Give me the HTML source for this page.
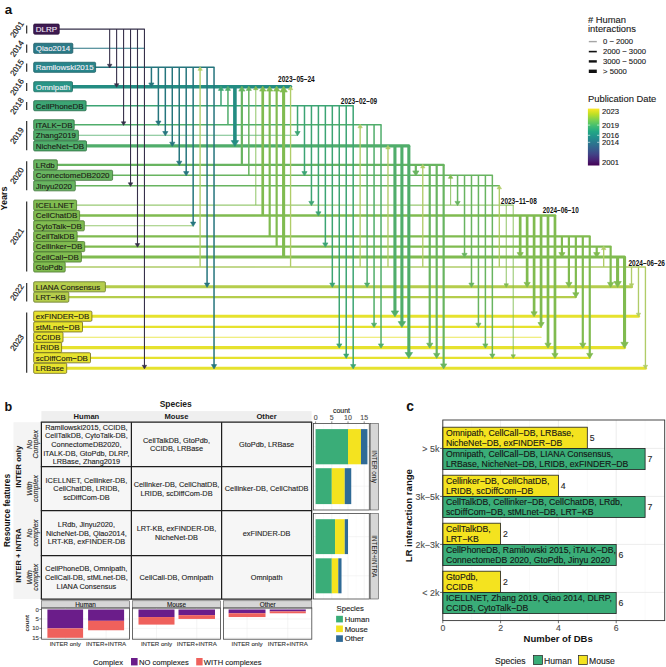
<!DOCTYPE html>
<html><head><meta charset="utf-8"><style>
html,body{margin:0;padding:0;background:#fff;}
svg{display:block;font-family:"Liberation Sans", sans-serif;}
</style></head><body>
<svg width="666" height="667" viewBox="0 0 666 667">
<rect width="666" height="667" fill="#fff"/>
<line x1="40" y1="29.1" x2="144.45" y2="29.1" stroke="#36304a" stroke-width="1.1" stroke-linecap="round"/>
<line x1="40" y1="48.3" x2="144.60" y2="48.3" stroke="#2a7482" stroke-width="1.1" stroke-linecap="round"/>
<line x1="40" y1="67.3" x2="214.03" y2="67.3" stroke="#25757d" stroke-width="1.5" stroke-linecap="round"/>
<line x1="40" y1="86.7" x2="290.57" y2="86.7" stroke="#238c82" stroke-width="3.6" stroke-linecap="round"/>
<line x1="40" y1="105.7" x2="353.19" y2="105.7" stroke="#3ca474" stroke-width="1.5" stroke-linecap="round"/>
<line x1="40" y1="124.8" x2="381.02" y2="124.8" stroke="#50ad6b" stroke-width="1.5" stroke-linecap="round"/>
<line x1="40" y1="135.2" x2="297.53" y2="135.2" stroke="#50ad6b" stroke-width="1.1" stroke-linecap="round" stroke-opacity="0.8"/>
<line x1="40" y1="145.9" x2="408.85" y2="145.9" stroke="#50ad6b" stroke-width="3.1" stroke-linecap="round"/>
<line x1="40" y1="164.9" x2="443.64" y2="164.9" stroke="#68b460" stroke-width="2.2" stroke-linecap="round"/>
<line x1="40" y1="175.3" x2="492.35" y2="175.3" stroke="#68b460" stroke-width="1.5" stroke-linecap="round"/>
<line x1="40" y1="185.8" x2="499.31" y2="185.8" stroke="#68b460" stroke-width="1.5" stroke-linecap="round"/>
<line x1="40" y1="205.1" x2="513.22" y2="205.1" stroke="#80bb50" stroke-width="1.1" stroke-linecap="round" stroke-opacity="0.8"/>
<line x1="40" y1="215.5" x2="554.97" y2="215.5" stroke="#80bb50" stroke-width="2.7" stroke-linecap="round"/>
<line x1="40" y1="225.8" x2="193.16" y2="225.8" stroke="#80bb50" stroke-width="1.1" stroke-linecap="round" stroke-opacity="0.8"/>
<line x1="40" y1="236.3" x2="589.76" y2="236.3" stroke="#80bb50" stroke-width="2.2" stroke-linecap="round"/>
<line x1="40" y1="246.6" x2="610.64" y2="246.6" stroke="#80bb50" stroke-width="2.2" stroke-linecap="round"/>
<line x1="40" y1="257.0" x2="624.55" y2="257.0" stroke="#80bb50" stroke-width="3.1" stroke-linecap="round"/>
<line x1="40" y1="267.0" x2="645.43" y2="267.0" stroke="#b0cc68" stroke-width="1.35" stroke-linecap="round"/>
<line x1="40" y1="286.8" x2="631.51" y2="286.8" stroke="#b5cd4c" stroke-width="3.1" stroke-linecap="round"/>
<line x1="40" y1="297.1" x2="575.85" y2="297.1" stroke="#b5cd4c" stroke-width="2.2" stroke-linecap="round"/>
<line x1="40" y1="316.2" x2="638.47" y2="316.2" stroke="#e6e22e" stroke-width="3.1" stroke-linecap="round"/>
<line x1="40" y1="326.9" x2="541.06" y2="326.9" stroke="#e6e22e" stroke-width="2.2" stroke-linecap="round"/>
<line x1="40" y1="337.2" x2="541.06" y2="337.2" stroke="#e6e22e" stroke-width="1.1" stroke-linecap="round" stroke-opacity="0.8"/>
<line x1="40" y1="347.6" x2="624.55" y2="347.6" stroke="#e6e22e" stroke-width="3.1" stroke-linecap="round"/>
<line x1="40" y1="357.8" x2="589.76" y2="357.8" stroke="#e6e22e" stroke-width="2.2" stroke-linecap="round"/>
<line x1="40" y1="368.3" x2="645.43" y2="368.3" stroke="#e6e22e" stroke-width="3.1" stroke-linecap="round"/>
<line x1="109.66" y1="29.1" x2="109.66" y2="64.80" stroke="#36304a" stroke-width="1.1"/>
<path d="M107.46 64.30 L111.86 64.30 L109.66 67.90 Z" fill="#36304a" stroke="#36304a" stroke-width="0.6" stroke-linejoin="round"/>
<line x1="116.62" y1="29.1" x2="116.62" y2="84.20" stroke="#36304a" stroke-width="1.1"/>
<path d="M114.42 83.70 L118.82 83.70 L116.62 87.30 Z" fill="#36304a" stroke="#36304a" stroke-width="0.6" stroke-linejoin="round"/>
<line x1="123.58" y1="29.1" x2="123.58" y2="122.30" stroke="#36304a" stroke-width="1.1"/>
<path d="M121.38 121.80 L125.78 121.80 L123.58 125.40 Z" fill="#36304a" stroke="#36304a" stroke-width="0.6" stroke-linejoin="round"/>
<line x1="130.53" y1="29.1" x2="130.53" y2="183.30" stroke="#36304a" stroke-width="1.1"/>
<path d="M128.33 182.80 L132.73 182.80 L130.53 186.40 Z" fill="#36304a" stroke="#36304a" stroke-width="0.6" stroke-linejoin="round"/>
<line x1="137.49" y1="29.1" x2="137.49" y2="244.10" stroke="#36304a" stroke-width="1.1"/>
<path d="M135.29 243.60 L139.69 243.60 L137.49 247.20 Z" fill="#36304a" stroke="#36304a" stroke-width="0.6" stroke-linejoin="round"/>
<line x1="144.45" y1="29.1" x2="144.45" y2="365.80" stroke="#36304a" stroke-width="1.1"/>
<path d="M142.25 365.30 L146.65 365.30 L144.45 368.90 Z" fill="#36304a" stroke="#36304a" stroke-width="0.6" stroke-linejoin="round"/>
<line x1="151.41" y1="67.3" x2="151.41" y2="83.50" stroke="#25757d" stroke-width="1.5"/>
<path d="M148.81 83.00 L154.01 83.00 L151.41 87.30 Z" fill="#25757d" stroke="#25757d" stroke-width="0.6" stroke-linejoin="round"/>
<line x1="158.37" y1="67.3" x2="158.37" y2="121.60" stroke="#25757d" stroke-width="1.5"/>
<path d="M155.77 121.10 L160.97 121.10 L158.37 125.40 Z" fill="#25757d" stroke="#25757d" stroke-width="0.6" stroke-linejoin="round"/>
<line x1="165.32" y1="67.3" x2="165.32" y2="132.00" stroke="#25757d" stroke-width="1.5"/>
<path d="M162.72 131.50 L167.92 131.50 L165.32 135.80 Z" fill="#25757d" stroke="#25757d" stroke-width="0.6" stroke-linejoin="round"/>
<line x1="172.28" y1="67.3" x2="172.28" y2="142.70" stroke="#25757d" stroke-width="1.5"/>
<path d="M169.68 142.20 L174.88 142.20 L172.28 146.50 Z" fill="#25757d" stroke="#25757d" stroke-width="0.6" stroke-linejoin="round"/>
<line x1="179.24" y1="67.3" x2="179.24" y2="161.70" stroke="#25757d" stroke-width="1.5"/>
<path d="M176.64 161.20 L181.84 161.20 L179.24 165.50 Z" fill="#25757d" stroke="#25757d" stroke-width="0.6" stroke-linejoin="round"/>
<line x1="186.20" y1="67.3" x2="186.20" y2="172.10" stroke="#25757d" stroke-width="1.5"/>
<path d="M183.60 171.60 L188.80 171.60 L186.20 175.90 Z" fill="#25757d" stroke="#25757d" stroke-width="0.6" stroke-linejoin="round"/>
<line x1="193.16" y1="67.3" x2="193.16" y2="222.60" stroke="#25757d" stroke-width="1.5"/>
<path d="M190.56 222.10 L195.76 222.10 L193.16 226.40 Z" fill="#25757d" stroke="#25757d" stroke-width="0.6" stroke-linejoin="round"/>
<line x1="200.11" y1="267.0" x2="200.11" y2="69.80" stroke="#b0cc68" stroke-width="1.35"/>
<path d="M197.91 70.30 L202.31 70.30 L200.11 66.70 Z" fill="#b0cc68" stroke="#b0cc68" stroke-width="0.6" stroke-linejoin="round"/>
<line x1="207.07" y1="67.3" x2="207.07" y2="283.60" stroke="#25757d" stroke-width="1.5"/>
<path d="M204.47 283.10 L209.67 283.10 L207.07 287.40 Z" fill="#25757d" stroke="#25757d" stroke-width="0.6" stroke-linejoin="round"/>
<line x1="214.03" y1="67.3" x2="214.03" y2="365.10" stroke="#25757d" stroke-width="1.5"/>
<path d="M211.43 364.60 L216.63 364.60 L214.03 368.90 Z" fill="#25757d" stroke="#25757d" stroke-width="0.6" stroke-linejoin="round"/>
<line x1="220.99" y1="105.7" x2="220.99" y2="89.90" stroke="#3ca474" stroke-width="1.5"/>
<path d="M218.39 90.40 L223.59 90.40 L220.99 86.10 Z" fill="#3ca474" stroke="#3ca474" stroke-width="0.6" stroke-linejoin="round"/>
<line x1="227.95" y1="124.8" x2="227.95" y2="89.90" stroke="#50ad6b" stroke-width="1.5"/>
<path d="M225.35 90.40 L230.55 90.40 L227.95 86.10 Z" fill="#50ad6b" stroke="#50ad6b" stroke-width="0.6" stroke-linejoin="round"/>
<line x1="234.90" y1="86.7" x2="234.90" y2="141.10" stroke="#238c82" stroke-width="3.6"/>
<path d="M231.20 140.60 L238.60 140.60 L234.90 146.50 Z" fill="#238c82" stroke="#238c82" stroke-width="0.6" stroke-linejoin="round"/>
<line x1="241.86" y1="164.9" x2="241.86" y2="90.60" stroke="#68b460" stroke-width="2.2"/>
<path d="M238.76 91.10 L244.96 91.10 L241.86 86.10 Z" fill="#68b460" stroke="#68b460" stroke-width="0.6" stroke-linejoin="round"/>
<line x1="248.82" y1="175.3" x2="248.82" y2="89.90" stroke="#68b460" stroke-width="1.5"/>
<path d="M246.22 90.40 L251.42 90.40 L248.82 86.10 Z" fill="#68b460" stroke="#68b460" stroke-width="0.6" stroke-linejoin="round"/>
<line x1="255.78" y1="205.1" x2="255.78" y2="89.20" stroke="#80bb50" stroke-width="1.1" stroke-opacity="0.8"/>
<path d="M253.58 89.70 L257.98 89.70 L255.78 86.10 Z" fill="#80bb50" stroke="#80bb50" stroke-width="0.6" stroke-linejoin="round"/>
<line x1="262.74" y1="215.5" x2="262.74" y2="90.60" stroke="#80bb50" stroke-width="2.7"/>
<path d="M259.64 91.10 L265.84 91.10 L262.74 86.10 Z" fill="#80bb50" stroke="#80bb50" stroke-width="0.6" stroke-linejoin="round"/>
<line x1="269.69" y1="236.3" x2="269.69" y2="90.60" stroke="#80bb50" stroke-width="2.2"/>
<path d="M266.59 91.10 L272.79 91.10 L269.69 86.10 Z" fill="#80bb50" stroke="#80bb50" stroke-width="0.6" stroke-linejoin="round"/>
<line x1="276.65" y1="246.6" x2="276.65" y2="90.60" stroke="#80bb50" stroke-width="2.2"/>
<path d="M273.55 91.10 L279.75 91.10 L276.65 86.10 Z" fill="#80bb50" stroke="#80bb50" stroke-width="0.6" stroke-linejoin="round"/>
<line x1="283.61" y1="257.0" x2="283.61" y2="91.50" stroke="#80bb50" stroke-width="3.1"/>
<path d="M279.91 92.00 L287.31 92.00 L283.61 86.10 Z" fill="#80bb50" stroke="#80bb50" stroke-width="0.6" stroke-linejoin="round"/>
<line x1="290.57" y1="267.0" x2="290.57" y2="89.20" stroke="#b0cc68" stroke-width="1.35"/>
<path d="M288.37 89.70 L292.77 89.70 L290.57 86.10 Z" fill="#b0cc68" stroke="#b0cc68" stroke-width="0.6" stroke-linejoin="round"/>
<line x1="297.53" y1="105.7" x2="297.53" y2="132.00" stroke="#3ca474" stroke-width="1.5"/>
<path d="M294.93 131.50 L300.13 131.50 L297.53 135.80 Z" fill="#3ca474" stroke="#3ca474" stroke-width="0.6" stroke-linejoin="round"/>
<line x1="304.48" y1="105.7" x2="304.48" y2="172.10" stroke="#3ca474" stroke-width="1.5"/>
<path d="M301.88 171.60 L307.08 171.60 L304.48 175.90 Z" fill="#3ca474" stroke="#3ca474" stroke-width="0.6" stroke-linejoin="round"/>
<line x1="311.44" y1="105.7" x2="311.44" y2="201.90" stroke="#3ca474" stroke-width="1.5"/>
<path d="M308.84 201.40 L314.04 201.40 L311.44 205.70 Z" fill="#3ca474" stroke="#3ca474" stroke-width="0.6" stroke-linejoin="round"/>
<line x1="318.40" y1="105.7" x2="318.40" y2="212.30" stroke="#3ca474" stroke-width="1.5"/>
<path d="M315.80 211.80 L321.00 211.80 L318.40 216.10 Z" fill="#3ca474" stroke="#3ca474" stroke-width="0.6" stroke-linejoin="round"/>
<line x1="325.36" y1="105.7" x2="325.36" y2="243.40" stroke="#3ca474" stroke-width="1.5"/>
<path d="M322.76 242.90 L327.96 242.90 L325.36 247.20 Z" fill="#3ca474" stroke="#3ca474" stroke-width="0.6" stroke-linejoin="round"/>
<line x1="332.32" y1="105.7" x2="332.32" y2="283.60" stroke="#3ca474" stroke-width="1.5"/>
<path d="M329.72 283.10 L334.92 283.10 L332.32 287.40 Z" fill="#3ca474" stroke="#3ca474" stroke-width="0.6" stroke-linejoin="round"/>
<line x1="339.27" y1="105.7" x2="339.27" y2="344.40" stroke="#3ca474" stroke-width="1.5"/>
<path d="M336.67 343.90 L341.87 343.90 L339.27 348.20 Z" fill="#3ca474" stroke="#3ca474" stroke-width="0.6" stroke-linejoin="round"/>
<line x1="346.23" y1="105.7" x2="346.23" y2="354.60" stroke="#3ca474" stroke-width="1.5"/>
<path d="M343.63 354.10 L348.83 354.10 L346.23 358.40 Z" fill="#3ca474" stroke="#3ca474" stroke-width="0.6" stroke-linejoin="round"/>
<line x1="353.19" y1="105.7" x2="353.19" y2="365.10" stroke="#3ca474" stroke-width="1.5"/>
<path d="M350.59 364.60 L355.79 364.60 L353.19 368.90 Z" fill="#3ca474" stroke="#3ca474" stroke-width="0.6" stroke-linejoin="round"/>
<line x1="360.15" y1="267.0" x2="360.15" y2="127.30" stroke="#b0cc68" stroke-width="1.35"/>
<path d="M357.95 127.80 L362.35 127.80 L360.15 124.20 Z" fill="#b0cc68" stroke="#b0cc68" stroke-width="0.6" stroke-linejoin="round"/>
<line x1="367.11" y1="124.8" x2="367.11" y2="283.60" stroke="#50ad6b" stroke-width="1.5"/>
<path d="M364.51 283.10 L369.71 283.10 L367.11 287.40 Z" fill="#50ad6b" stroke="#50ad6b" stroke-width="0.6" stroke-linejoin="round"/>
<line x1="374.06" y1="124.8" x2="374.06" y2="323.70" stroke="#50ad6b" stroke-width="1.5"/>
<path d="M371.46 323.20 L376.66 323.20 L374.06 327.50 Z" fill="#50ad6b" stroke="#50ad6b" stroke-width="0.6" stroke-linejoin="round"/>
<line x1="381.02" y1="124.8" x2="381.02" y2="344.40" stroke="#50ad6b" stroke-width="1.5"/>
<path d="M378.42 343.90 L383.62 343.90 L381.02 348.20 Z" fill="#50ad6b" stroke="#50ad6b" stroke-width="0.6" stroke-linejoin="round"/>
<line x1="387.98" y1="267.0" x2="387.98" y2="148.40" stroke="#b0cc68" stroke-width="1.35"/>
<path d="M385.78 148.90 L390.18 148.90 L387.98 145.30 Z" fill="#b0cc68" stroke="#b0cc68" stroke-width="0.6" stroke-linejoin="round"/>
<line x1="394.94" y1="145.9" x2="394.94" y2="311.40" stroke="#50ad6b" stroke-width="3.1"/>
<path d="M391.24 310.90 L398.64 310.90 L394.94 316.80 Z" fill="#50ad6b" stroke="#50ad6b" stroke-width="0.6" stroke-linejoin="round"/>
<line x1="401.90" y1="145.9" x2="401.90" y2="322.10" stroke="#50ad6b" stroke-width="3.1"/>
<path d="M398.20 321.60 L405.60 321.60 L401.90 327.50 Z" fill="#50ad6b" stroke="#50ad6b" stroke-width="0.6" stroke-linejoin="round"/>
<line x1="408.85" y1="145.9" x2="408.85" y2="353.00" stroke="#50ad6b" stroke-width="3.1"/>
<path d="M405.15 352.50 L412.55 352.50 L408.85 358.40 Z" fill="#50ad6b" stroke="#50ad6b" stroke-width="0.6" stroke-linejoin="round"/>
<line x1="415.81" y1="164.9" x2="415.81" y2="171.40" stroke="#68b460" stroke-width="2.2"/>
<path d="M412.71 170.90 L418.91 170.90 L415.81 175.90 Z" fill="#68b460" stroke="#68b460" stroke-width="0.6" stroke-linejoin="round"/>
<line x1="422.77" y1="267.0" x2="422.77" y2="167.40" stroke="#b0cc68" stroke-width="1.35"/>
<path d="M420.57 167.90 L424.97 167.90 L422.77 164.30 Z" fill="#b0cc68" stroke="#b0cc68" stroke-width="0.6" stroke-linejoin="round"/>
<line x1="429.73" y1="164.9" x2="429.73" y2="343.70" stroke="#68b460" stroke-width="2.2"/>
<path d="M426.63 343.20 L432.83 343.20 L429.73 348.20 Z" fill="#68b460" stroke="#68b460" stroke-width="0.6" stroke-linejoin="round"/>
<line x1="436.69" y1="164.9" x2="436.69" y2="353.90" stroke="#68b460" stroke-width="2.2"/>
<path d="M433.59 353.40 L439.79 353.40 L436.69 358.40 Z" fill="#68b460" stroke="#68b460" stroke-width="0.6" stroke-linejoin="round"/>
<line x1="443.64" y1="164.9" x2="443.64" y2="364.40" stroke="#68b460" stroke-width="2.2"/>
<path d="M440.54 363.90 L446.74 363.90 L443.64 368.90 Z" fill="#68b460" stroke="#68b460" stroke-width="0.6" stroke-linejoin="round"/>
<line x1="450.60" y1="205.1" x2="450.60" y2="177.80" stroke="#80bb50" stroke-width="1.1" stroke-opacity="0.8"/>
<path d="M448.40 178.30 L452.80 178.30 L450.60 174.70 Z" fill="#80bb50" stroke="#80bb50" stroke-width="0.6" stroke-linejoin="round"/>
<line x1="457.56" y1="175.3" x2="457.56" y2="201.90" stroke="#68b460" stroke-width="1.5"/>
<path d="M454.96 201.40 L460.16 201.40 L457.56 205.70 Z" fill="#68b460" stroke="#68b460" stroke-width="0.6" stroke-linejoin="round"/>
<line x1="464.52" y1="175.3" x2="464.52" y2="253.80" stroke="#68b460" stroke-width="1.5"/>
<path d="M461.92 253.30 L467.12 253.30 L464.52 257.60 Z" fill="#68b460" stroke="#68b460" stroke-width="0.6" stroke-linejoin="round"/>
<line x1="471.48" y1="175.3" x2="471.48" y2="283.60" stroke="#68b460" stroke-width="1.5"/>
<path d="M468.88 283.10 L474.08 283.10 L471.48 287.40 Z" fill="#68b460" stroke="#68b460" stroke-width="0.6" stroke-linejoin="round"/>
<line x1="478.43" y1="175.3" x2="478.43" y2="323.70" stroke="#68b460" stroke-width="1.5"/>
<path d="M475.83 323.20 L481.03 323.20 L478.43 327.50 Z" fill="#68b460" stroke="#68b460" stroke-width="0.6" stroke-linejoin="round"/>
<line x1="485.39" y1="175.3" x2="485.39" y2="344.40" stroke="#68b460" stroke-width="1.5"/>
<path d="M482.79 343.90 L487.99 343.90 L485.39 348.20 Z" fill="#68b460" stroke="#68b460" stroke-width="0.6" stroke-linejoin="round"/>
<line x1="492.35" y1="175.3" x2="492.35" y2="354.60" stroke="#68b460" stroke-width="1.5"/>
<path d="M489.75 354.10 L494.95 354.10 L492.35 358.40 Z" fill="#68b460" stroke="#68b460" stroke-width="0.6" stroke-linejoin="round"/>
<line x1="499.31" y1="267.0" x2="499.31" y2="188.30" stroke="#b0cc68" stroke-width="1.35"/>
<path d="M497.11 188.80 L501.51 188.80 L499.31 185.20 Z" fill="#b0cc68" stroke="#b0cc68" stroke-width="0.6" stroke-linejoin="round"/>
<line x1="506.27" y1="205.1" x2="506.27" y2="284.30" stroke="#80bb50" stroke-width="1.1" stroke-opacity="0.8"/>
<path d="M504.07 283.80 L508.47 283.80 L506.27 287.40 Z" fill="#80bb50" stroke="#80bb50" stroke-width="0.6" stroke-linejoin="round"/>
<line x1="513.22" y1="205.1" x2="513.22" y2="355.30" stroke="#80bb50" stroke-width="1.1" stroke-opacity="0.8"/>
<path d="M511.02 354.80 L515.42 354.80 L513.22 358.40 Z" fill="#80bb50" stroke="#80bb50" stroke-width="0.6" stroke-linejoin="round"/>
<line x1="520.18" y1="215.5" x2="520.18" y2="253.10" stroke="#80bb50" stroke-width="2.7"/>
<path d="M517.08 252.60 L523.28 252.60 L520.18 257.60 Z" fill="#80bb50" stroke="#80bb50" stroke-width="0.6" stroke-linejoin="round"/>
<line x1="527.14" y1="215.5" x2="527.14" y2="282.90" stroke="#80bb50" stroke-width="2.7"/>
<path d="M524.04 282.40 L530.24 282.40 L527.14 287.40 Z" fill="#80bb50" stroke="#80bb50" stroke-width="0.6" stroke-linejoin="round"/>
<line x1="534.10" y1="215.5" x2="534.10" y2="312.30" stroke="#80bb50" stroke-width="2.7"/>
<path d="M531.00 311.80 L537.20 311.80 L534.10 316.80 Z" fill="#80bb50" stroke="#80bb50" stroke-width="0.6" stroke-linejoin="round"/>
<line x1="541.06" y1="215.5" x2="541.06" y2="323.00" stroke="#80bb50" stroke-width="2.7"/>
<path d="M537.96 322.50 L544.16 322.50 L541.06 327.50 Z" fill="#80bb50" stroke="#80bb50" stroke-width="0.6" stroke-linejoin="round"/>
<line x1="548.01" y1="215.5" x2="548.01" y2="343.70" stroke="#80bb50" stroke-width="2.7"/>
<path d="M544.91 343.20 L551.11 343.20 L548.01 348.20 Z" fill="#80bb50" stroke="#80bb50" stroke-width="0.6" stroke-linejoin="round"/>
<line x1="554.97" y1="215.5" x2="554.97" y2="353.90" stroke="#80bb50" stroke-width="2.7"/>
<path d="M551.87 353.40 L558.07 353.40 L554.97 358.40 Z" fill="#80bb50" stroke="#80bb50" stroke-width="0.6" stroke-linejoin="round"/>
<line x1="561.93" y1="236.3" x2="561.93" y2="253.10" stroke="#80bb50" stroke-width="2.2"/>
<path d="M558.83 252.60 L565.03 252.60 L561.93 257.60 Z" fill="#80bb50" stroke="#80bb50" stroke-width="0.6" stroke-linejoin="round"/>
<line x1="568.89" y1="236.3" x2="568.89" y2="282.90" stroke="#80bb50" stroke-width="2.2"/>
<path d="M565.79 282.40 L571.99 282.40 L568.89 287.40 Z" fill="#80bb50" stroke="#80bb50" stroke-width="0.6" stroke-linejoin="round"/>
<line x1="575.85" y1="236.3" x2="575.85" y2="293.20" stroke="#80bb50" stroke-width="2.2"/>
<path d="M572.75 292.70 L578.95 292.70 L575.85 297.70 Z" fill="#80bb50" stroke="#80bb50" stroke-width="0.6" stroke-linejoin="round"/>
<line x1="582.80" y1="236.3" x2="582.80" y2="343.70" stroke="#80bb50" stroke-width="2.2"/>
<path d="M579.70 343.20 L585.90 343.20 L582.80 348.20 Z" fill="#80bb50" stroke="#80bb50" stroke-width="0.6" stroke-linejoin="round"/>
<line x1="589.76" y1="236.3" x2="589.76" y2="353.90" stroke="#80bb50" stroke-width="2.2"/>
<path d="M586.66 353.40 L592.86 353.40 L589.76 358.40 Z" fill="#80bb50" stroke="#80bb50" stroke-width="0.6" stroke-linejoin="round"/>
<line x1="596.72" y1="246.6" x2="596.72" y2="253.10" stroke="#80bb50" stroke-width="2.2"/>
<path d="M593.62 252.60 L599.82 252.60 L596.72 257.60 Z" fill="#80bb50" stroke="#80bb50" stroke-width="0.6" stroke-linejoin="round"/>
<line x1="603.68" y1="267.0" x2="603.68" y2="249.10" stroke="#b0cc68" stroke-width="1.35"/>
<path d="M601.48 249.60 L605.88 249.60 L603.68 246.00 Z" fill="#b0cc68" stroke="#b0cc68" stroke-width="0.6" stroke-linejoin="round"/>
<line x1="610.64" y1="246.6" x2="610.64" y2="282.90" stroke="#80bb50" stroke-width="2.2"/>
<path d="M607.54 282.40 L613.74 282.40 L610.64 287.40 Z" fill="#80bb50" stroke="#80bb50" stroke-width="0.6" stroke-linejoin="round"/>
<line x1="617.59" y1="257.0" x2="617.59" y2="282.00" stroke="#80bb50" stroke-width="3.1"/>
<path d="M613.89 281.50 L621.29 281.50 L617.59 287.40 Z" fill="#80bb50" stroke="#80bb50" stroke-width="0.6" stroke-linejoin="round"/>
<line x1="624.55" y1="257.0" x2="624.55" y2="342.80" stroke="#80bb50" stroke-width="3.1"/>
<path d="M620.85 342.30 L628.25 342.30 L624.55 348.20 Z" fill="#80bb50" stroke="#80bb50" stroke-width="0.6" stroke-linejoin="round"/>
<line x1="631.51" y1="267.0" x2="631.51" y2="284.30" stroke="#b0cc68" stroke-width="1.35"/>
<path d="M629.31 283.80 L633.71 283.80 L631.51 287.40 Z" fill="#b0cc68" stroke="#b0cc68" stroke-width="0.6" stroke-linejoin="round"/>
<line x1="638.47" y1="267.0" x2="638.47" y2="313.70" stroke="#b0cc68" stroke-width="1.35"/>
<path d="M636.27 313.20 L640.67 313.20 L638.47 316.80 Z" fill="#b0cc68" stroke="#b0cc68" stroke-width="0.6" stroke-linejoin="round"/>
<line x1="645.43" y1="267.0" x2="645.43" y2="365.80" stroke="#b0cc68" stroke-width="1.35"/>
<path d="M643.23 365.30 L647.63 365.30 L645.43 368.90 Z" fill="#b0cc68" stroke="#b0cc68" stroke-width="0.6" stroke-linejoin="round"/>
<rect x="33.7" y="24.05" width="25.50" height="10.1" rx="1.1" fill="#3f1a52" stroke="#2a1038" stroke-width="0.8"/>
<text x="35.80" y="31.90" font-size="7.95" text-anchor="start" font-weight="normal" font-style="normal" fill="#f4eef6" stroke="#f4eef6" stroke-width="0.12" >DLRP</text>
<rect x="33.7" y="43.25" width="39.10" height="10.1" rx="1.1" fill="#2c7b88" stroke="#1d5a64" stroke-width="0.8"/>
<text x="35.80" y="51.10" font-size="7.95" text-anchor="start" font-weight="normal" font-style="normal" fill="#f4eef6" stroke="#f4eef6" stroke-width="0.12" >Qiao2014</text>
<rect x="33.7" y="62.25" width="61.90" height="10.1" rx="1.1" fill="#29858b" stroke="#1c6166" stroke-width="0.8"/>
<text x="35.80" y="70.10" font-size="7.95" text-anchor="start" font-weight="normal" font-style="normal" fill="#f4eef6" stroke="#f4eef6" stroke-width="0.12" >Ramilowski2015</text>
<rect x="33.7" y="81.65" width="38.80" height="10.1" rx="1.1" fill="#2a9587" stroke="#1d6d62" stroke-width="0.8"/>
<text x="35.80" y="89.50" font-size="7.95" text-anchor="start" font-weight="normal" font-style="normal" fill="#f4eef6" stroke="#f4eef6" stroke-width="0.12" >Omnipath</text>
<rect x="33.7" y="100.65" width="52.40" height="10.1" rx="1.1" fill="#3ca474" stroke="#25694a" stroke-width="0.8"/>
<text x="35.80" y="108.50" font-size="7.95" text-anchor="start" font-weight="normal" font-style="normal" fill="#1b1b14" stroke="#1b1b14" stroke-width="0.12" >CellPhoneDB</text>
<rect x="33.7" y="119.75" width="40.50" height="10.1" rx="1.1" fill="#50ad6b" stroke="#2f6e40" stroke-width="0.8"/>
<text x="35.80" y="127.60" font-size="7.95" text-anchor="start" font-weight="normal" font-style="normal" fill="#1b1b14" stroke="#1b1b14" stroke-width="0.12" >iTALK−DB</text>
<rect x="33.7" y="130.15" width="44.70" height="10.1" rx="1.1" fill="#50ad6b" stroke="#2f6e40" stroke-width="0.8"/>
<text x="35.80" y="138.00" font-size="7.95" text-anchor="start" font-weight="normal" font-style="normal" fill="#1b1b14" stroke="#1b1b14" stroke-width="0.12" >Zhang2019</text>
<rect x="33.7" y="140.85" width="52.80" height="10.1" rx="1.1" fill="#50ad6b" stroke="#2f6e40" stroke-width="0.8"/>
<text x="35.80" y="148.70" font-size="7.95" text-anchor="start" font-weight="normal" font-style="normal" fill="#1b1b14" stroke="#1b1b14" stroke-width="0.12" >NicheNet−DB</text>
<rect x="33.7" y="159.85" width="23.60" height="10.1" rx="1.1" fill="#68b460" stroke="#3f743a" stroke-width="0.8"/>
<text x="35.80" y="167.70" font-size="7.95" text-anchor="start" font-weight="normal" font-style="normal" fill="#1b1b14" stroke="#1b1b14" stroke-width="0.12" >LRdb</text>
<rect x="33.7" y="170.25" width="78.90" height="10.1" rx="1.1" fill="#68b460" stroke="#3f743a" stroke-width="0.8"/>
<text x="35.80" y="178.10" font-size="7.95" text-anchor="start" font-weight="normal" font-style="normal" fill="#1b1b14" stroke="#1b1b14" stroke-width="0.12" >ConnectomeDB2020</text>
<rect x="33.7" y="180.75" width="41.60" height="10.1" rx="1.1" fill="#68b460" stroke="#3f743a" stroke-width="0.8"/>
<text x="35.80" y="188.60" font-size="7.95" text-anchor="start" font-weight="normal" font-style="normal" fill="#1b1b14" stroke="#1b1b14" stroke-width="0.12" >Jinyu2020</text>
<rect x="33.7" y="200.05" width="42.90" height="10.1" rx="1.1" fill="#80bb50" stroke="#4d7a30" stroke-width="0.8"/>
<text x="35.80" y="207.90" font-size="7.95" text-anchor="start" font-weight="normal" font-style="normal" fill="#1b1b14" stroke="#1b1b14" stroke-width="0.12" >ICELLNET</text>
<rect x="33.7" y="210.45" width="45.90" height="10.1" rx="1.1" fill="#80bb50" stroke="#4d7a30" stroke-width="0.8"/>
<text x="35.80" y="218.30" font-size="7.95" text-anchor="start" font-weight="normal" font-style="normal" fill="#1b1b14" stroke="#1b1b14" stroke-width="0.12" >CellChatDB</text>
<rect x="33.7" y="220.75" width="50.60" height="10.1" rx="1.1" fill="#80bb50" stroke="#4d7a30" stroke-width="0.8"/>
<text x="35.80" y="228.60" font-size="7.95" text-anchor="start" font-weight="normal" font-style="normal" fill="#1b1b14" stroke="#1b1b14" stroke-width="0.12" >CytoTalk−DB</text>
<rect x="33.7" y="231.25" width="43.40" height="10.1" rx="1.1" fill="#80bb50" stroke="#4d7a30" stroke-width="0.8"/>
<text x="35.80" y="239.10" font-size="7.95" text-anchor="start" font-weight="normal" font-style="normal" fill="#1b1b14" stroke="#1b1b14" stroke-width="0.12" >CellTalkDB</text>
<rect x="33.7" y="241.55" width="51.00" height="10.1" rx="1.1" fill="#80bb50" stroke="#4d7a30" stroke-width="0.8"/>
<text x="35.80" y="249.40" font-size="7.95" text-anchor="start" font-weight="normal" font-style="normal" fill="#1b1b14" stroke="#1b1b14" stroke-width="0.12" >Cellinker−DB</text>
<rect x="33.7" y="251.95" width="47.70" height="10.1" rx="1.1" fill="#80bb50" stroke="#4d7a30" stroke-width="0.8"/>
<text x="35.80" y="259.80" font-size="7.95" text-anchor="start" font-weight="normal" font-style="normal" fill="#1b1b14" stroke="#1b1b14" stroke-width="0.12" >CellCall−DB</text>
<rect x="33.7" y="261.95" width="31.50" height="10.1" rx="1.1" fill="#80bb50" stroke="#4d7a30" stroke-width="0.8"/>
<text x="35.80" y="269.80" font-size="7.95" text-anchor="start" font-weight="normal" font-style="normal" fill="#1b1b14" stroke="#1b1b14" stroke-width="0.12" >GtoPdb</text>
<rect x="33.7" y="281.75" width="71.70" height="10.1" rx="1.1" fill="#b5cd4c" stroke="#66772c" stroke-width="0.8"/>
<text x="35.80" y="289.60" font-size="7.95" text-anchor="start" font-weight="normal" font-style="normal" fill="#1b1b14" stroke="#1b1b14" stroke-width="0.12" >LIANA Consensus</text>
<rect x="33.7" y="292.05" width="35.10" height="10.1" rx="1.1" fill="#b5cd4c" stroke="#66772c" stroke-width="0.8"/>
<text x="35.80" y="299.90" font-size="7.95" text-anchor="start" font-weight="normal" font-style="normal" fill="#1b1b14" stroke="#1b1b14" stroke-width="0.12" >LRT−KB</text>
<rect x="33.7" y="311.15" width="58.20" height="10.1" rx="1.1" fill="#e6e22e" stroke="#6f6b1a" stroke-width="0.8"/>
<text x="35.80" y="319.00" font-size="7.95" text-anchor="start" font-weight="normal" font-style="normal" fill="#1b1b14" stroke="#1b1b14" stroke-width="0.12" >exFINDER−DB</text>
<rect x="33.7" y="321.85" width="48.80" height="10.1" rx="1.1" fill="#e6e22e" stroke="#6f6b1a" stroke-width="0.8"/>
<text x="35.80" y="329.70" font-size="7.95" text-anchor="start" font-weight="normal" font-style="normal" fill="#1b1b14" stroke="#1b1b14" stroke-width="0.12" >stMLnet−DB</text>
<rect x="33.7" y="332.15" width="29.30" height="10.1" rx="1.1" fill="#e6e22e" stroke="#6f6b1a" stroke-width="0.8"/>
<text x="35.80" y="340.00" font-size="7.95" text-anchor="start" font-weight="normal" font-style="normal" fill="#1b1b14" stroke="#1b1b14" stroke-width="0.12" >CCIDB</text>
<rect x="33.7" y="342.55" width="27.90" height="10.1" rx="1.1" fill="#e6e22e" stroke="#6f6b1a" stroke-width="0.8"/>
<text x="35.80" y="350.40" font-size="7.95" text-anchor="start" font-weight="normal" font-style="normal" fill="#1b1b14" stroke="#1b1b14" stroke-width="0.12" >LRIDB</text>
<rect x="33.7" y="352.75" width="56.80" height="10.1" rx="1.1" fill="#e6e22e" stroke="#6f6b1a" stroke-width="0.8"/>
<text x="35.80" y="360.60" font-size="7.95" text-anchor="start" font-weight="normal" font-style="normal" fill="#1b1b14" stroke="#1b1b14" stroke-width="0.12" >scDiffCom−DB</text>
<rect x="33.7" y="363.25" width="33.00" height="10.1" rx="1.1" fill="#e6e22e" stroke="#6f6b1a" stroke-width="0.8"/>
<text x="35.80" y="371.10" font-size="7.95" text-anchor="start" font-weight="normal" font-style="normal" fill="#1b1b14" stroke="#1b1b14" stroke-width="0.12" >LRBase</text>
<line x1="26.7" y1="25.40" x2="26.7" y2="33.50" stroke="#1a1a1a" stroke-width="1.1"/>
<text x="0" y="0" font-size="8.0" stroke="#1a1a1a" stroke-width="0.2" text-anchor="middle" fill="#1a1a1a" transform="translate(17.0 29.40) rotate(-56) translate(0 2.8)">2001</text>
<line x1="26.7" y1="44.60" x2="26.7" y2="52.70" stroke="#1a1a1a" stroke-width="1.1"/>
<text x="0" y="0" font-size="8.0" stroke="#1a1a1a" stroke-width="0.2" text-anchor="middle" fill="#1a1a1a" transform="translate(17.0 48.60) rotate(-56) translate(0 2.8)">2014</text>
<line x1="26.7" y1="63.60" x2="26.7" y2="71.70" stroke="#1a1a1a" stroke-width="1.1"/>
<text x="0" y="0" font-size="8.0" stroke="#1a1a1a" stroke-width="0.2" text-anchor="middle" fill="#1a1a1a" transform="translate(17.0 67.60) rotate(-56) translate(0 2.8)">2015</text>
<line x1="26.7" y1="83.00" x2="26.7" y2="91.10" stroke="#1a1a1a" stroke-width="1.1"/>
<text x="0" y="0" font-size="8.0" stroke="#1a1a1a" stroke-width="0.2" text-anchor="middle" fill="#1a1a1a" transform="translate(17.0 87.00) rotate(-56) translate(0 2.8)">2016</text>
<line x1="26.7" y1="102.00" x2="26.7" y2="110.10" stroke="#1a1a1a" stroke-width="1.1"/>
<text x="0" y="0" font-size="8.0" stroke="#1a1a1a" stroke-width="0.2" text-anchor="middle" fill="#1a1a1a" transform="translate(17.0 106.00) rotate(-56) translate(0 2.8)">2018</text>
<line x1="26.7" y1="121.10" x2="26.7" y2="150.30" stroke="#1a1a1a" stroke-width="1.1"/>
<text x="0" y="0" font-size="8.0" stroke="#1a1a1a" stroke-width="0.2" text-anchor="middle" fill="#1a1a1a" transform="translate(17.0 135.65) rotate(-56) translate(0 2.8)">2019</text>
<line x1="26.7" y1="161.20" x2="26.7" y2="190.20" stroke="#1a1a1a" stroke-width="1.1"/>
<text x="0" y="0" font-size="8.0" stroke="#1a1a1a" stroke-width="0.2" text-anchor="middle" fill="#1a1a1a" transform="translate(17.0 175.65) rotate(-56) translate(0 2.8)">2020</text>
<line x1="26.7" y1="201.40" x2="26.7" y2="271.40" stroke="#1a1a1a" stroke-width="1.1"/>
<text x="0" y="0" font-size="8.0" stroke="#1a1a1a" stroke-width="0.2" text-anchor="middle" fill="#1a1a1a" transform="translate(17.0 236.35) rotate(-56) translate(0 2.8)">2021</text>
<line x1="26.7" y1="283.10" x2="26.7" y2="301.50" stroke="#1a1a1a" stroke-width="1.1"/>
<text x="0" y="0" font-size="8.0" stroke="#1a1a1a" stroke-width="0.2" text-anchor="middle" fill="#1a1a1a" transform="translate(17.0 292.25) rotate(-56) translate(0 2.8)">2022</text>
<line x1="26.7" y1="312.50" x2="26.7" y2="372.70" stroke="#1a1a1a" stroke-width="1.1"/>
<text x="0" y="0" font-size="8.0" stroke="#1a1a1a" stroke-width="0.2" text-anchor="middle" fill="#1a1a1a" transform="translate(17.0 342.55) rotate(-56) translate(0 2.8)">2023</text>
<text x="0" y="0" font-size="9" font-weight="bold" text-anchor="middle" fill="#111" transform="translate(7.2 198.5) rotate(-90)">Years</text>
<text x="4.70" y="13.60" font-size="13.4" text-anchor="start" font-weight="bold" font-style="normal" fill="#111" stroke="#111" stroke-width="0" >a</text>
<text x="278.1" y="82.4" font-size="8.4" font-weight="bold" fill="#111" textLength="36.6" lengthAdjust="spacingAndGlyphs">2023−05−24</text>
<text x="340.8" y="103.8" font-size="8.4" font-weight="bold" fill="#111" textLength="36.3" lengthAdjust="spacingAndGlyphs">2023−02−09</text>
<text x="500.8" y="204.4" font-size="8.4" font-weight="bold" fill="#111" textLength="36.0" lengthAdjust="spacingAndGlyphs">2023−11−08</text>
<text x="542.8" y="213.0" font-size="8.4" font-weight="bold" fill="#111" textLength="35.9" lengthAdjust="spacingAndGlyphs">2024−06−10</text>
<text x="628.4" y="266.1" font-size="8.4" font-weight="bold" fill="#111" textLength="36.6" lengthAdjust="spacingAndGlyphs">2024−06−26</text>
<text x="588.00" y="22.90" font-size="9.4" text-anchor="start" font-weight="normal" font-style="normal" fill="#1a1a1a" stroke="#1a1a1a" stroke-width="0.12" ># Human</text>
<text x="588.00" y="32.20" font-size="9.4" text-anchor="start" font-weight="normal" font-style="normal" fill="#1a1a1a" stroke="#1a1a1a" stroke-width="0.12" >interactions</text>
<line x1="588.8" y1="41.6" x2="596.8" y2="41.6" stroke="#a5a5a5" stroke-width="1.4"/>
<text x="603.00" y="44.30" font-size="7.7" text-anchor="start" font-weight="normal" font-style="normal" fill="#1a1a1a" stroke="#1a1a1a" stroke-width="0.12" >0 − 2000</text>
<line x1="588.8" y1="51.6" x2="596.8" y2="51.6" stroke="#111" stroke-width="1.6"/>
<text x="603.00" y="54.30" font-size="7.7" text-anchor="start" font-weight="normal" font-style="normal" fill="#1a1a1a" stroke="#1a1a1a" stroke-width="0.12" >2000 − 3000</text>
<line x1="588.8" y1="61.4" x2="596.8" y2="61.4" stroke="#111" stroke-width="2.4"/>
<text x="603.00" y="64.10" font-size="7.7" text-anchor="start" font-weight="normal" font-style="normal" fill="#1a1a1a" stroke="#1a1a1a" stroke-width="0.12" >3000 − 5000</text>
<line x1="588.8" y1="71.3" x2="596.8" y2="71.3" stroke="#111" stroke-width="3.4"/>
<text x="603.00" y="74.00" font-size="7.7" text-anchor="start" font-weight="normal" font-style="normal" fill="#1a1a1a" stroke="#1a1a1a" stroke-width="0.12" >&gt; 5000</text>
<text x="588.00" y="101.80" font-size="9.4" text-anchor="start" font-weight="normal" font-style="normal" fill="#1a1a1a" stroke="#1a1a1a" stroke-width="0.12" >Publication Date</text>
<defs><linearGradient id="vir" x1="0" y1="1" x2="0" y2="0"><stop offset="0" stop-color="#440154"/><stop offset="0.1" stop-color="#482475"/><stop offset="0.2" stop-color="#414487"/><stop offset="0.3" stop-color="#355f8d"/><stop offset="0.4" stop-color="#2a788e"/><stop offset="0.5" stop-color="#21918c"/><stop offset="0.6" stop-color="#22a884"/><stop offset="0.7" stop-color="#44bf70"/><stop offset="0.8" stop-color="#7ad151"/><stop offset="0.9" stop-color="#bddf26"/><stop offset="1" stop-color="#fde725"/></linearGradient></defs>
<rect x="587.9" y="108.6" width="11.5" height="56.9" fill="url(#vir)"/>
<text x="602.00" y="113.80" font-size="7.7" text-anchor="start" font-weight="normal" font-style="normal" fill="#1a1a1a" stroke="#1a1a1a" stroke-width="0.12" >2023</text>
<line x1="587.9" y1="125.1" x2="590.2" y2="125.1" stroke="#fff" stroke-width="0.6"/><line x1="597.1" y1="125.1" x2="599.4" y2="125.1" stroke="#fff" stroke-width="0.6"/>
<text x="602.00" y="127.80" font-size="7.7" text-anchor="start" font-weight="normal" font-style="normal" fill="#1a1a1a" stroke="#1a1a1a" stroke-width="0.12" >2019</text>
<line x1="587.9" y1="135.3" x2="590.2" y2="135.3" stroke="#fff" stroke-width="0.6"/><line x1="597.1" y1="135.3" x2="599.4" y2="135.3" stroke="#fff" stroke-width="0.6"/>
<text x="602.00" y="138.00" font-size="7.7" text-anchor="start" font-weight="normal" font-style="normal" fill="#1a1a1a" stroke="#1a1a1a" stroke-width="0.12" >2016</text>
<line x1="587.9" y1="142.3" x2="590.2" y2="142.3" stroke="#fff" stroke-width="0.6"/><line x1="597.1" y1="142.3" x2="599.4" y2="142.3" stroke="#fff" stroke-width="0.6"/>
<text x="602.00" y="145.00" font-size="7.7" text-anchor="start" font-weight="normal" font-style="normal" fill="#1a1a1a" stroke="#1a1a1a" stroke-width="0.12" >2014</text>
<text x="602.00" y="165.40" font-size="7.7" text-anchor="start" font-weight="normal" font-style="normal" fill="#1a1a1a" stroke="#1a1a1a" stroke-width="0.12" >2001</text>
<text x="4.60" y="410.80" font-size="12.6" text-anchor="start" font-weight="bold" font-style="normal" fill="#111" stroke="#111" stroke-width="0" >b</text>
<text x="175.70" y="407.30" font-size="8.5" text-anchor="middle" font-weight="bold" font-style="normal" fill="#1a1a1a" stroke="#1a1a1a" stroke-width="0" >Species</text>
<rect x="41.4" y="411.1" width="270.2" height="11.2" fill="#efefef"/>
<text x="86.40" y="419.40" font-size="7.6" text-anchor="middle" font-weight="bold" font-style="normal" fill="#1a1a1a" stroke="#1a1a1a" stroke-width="0" >Human</text>
<text x="176.50" y="419.40" font-size="7.6" text-anchor="middle" font-weight="bold" font-style="normal" fill="#1a1a1a" stroke="#1a1a1a" stroke-width="0" >Mouse</text>
<text x="266.60" y="419.40" font-size="7.6" text-anchor="middle" font-weight="bold" font-style="normal" fill="#1a1a1a" stroke="#1a1a1a" stroke-width="0" >Other</text>
<rect x="13.5" y="422.2" width="27.9" height="176.8" fill="#f4f4f4"/>
<rect x="41.4" y="422.2" width="270.2" height="176.8" fill="#f6f6f6"/>
<line x1="40.8" y1="422.2" x2="312.20000000000005" y2="422.2" stroke="#1e1e1e" stroke-width="1.25"/>
<line x1="40.8" y1="466.6" x2="312.20000000000005" y2="466.6" stroke="#1e1e1e" stroke-width="1.25"/>
<line x1="40.8" y1="510.6" x2="312.20000000000005" y2="510.6" stroke="#1e1e1e" stroke-width="1.25"/>
<line x1="40.8" y1="555.6" x2="312.20000000000005" y2="555.6" stroke="#1e1e1e" stroke-width="1.25"/>
<line x1="40.8" y1="599.0" x2="312.20000000000005" y2="599.0" stroke="#1e1e1e" stroke-width="1.25"/>
<line x1="41.4" y1="422.2" x2="41.4" y2="599.0" stroke="#1e1e1e" stroke-width="1.25"/>
<line x1="131.4" y1="422.2" x2="131.4" y2="599.0" stroke="#1e1e1e" stroke-width="1.25"/>
<line x1="221.6" y1="422.2" x2="221.6" y2="599.0" stroke="#1e1e1e" stroke-width="1.25"/>
<line x1="311.6" y1="422.2" x2="311.6" y2="599.0" stroke="#1e1e1e" stroke-width="1.25"/>
<text x="86.40" y="429.70" font-size="7.35" text-anchor="middle" font-weight="normal" font-style="normal" fill="#1e1e1e" stroke="#1e1e1e" stroke-width="0.12" >Ramilowski2015, CCIDB,</text>
<text x="86.40" y="438.35" font-size="7.35" text-anchor="middle" font-weight="normal" font-style="normal" fill="#1e1e1e" stroke="#1e1e1e" stroke-width="0.12" >CellTalkDB, CytoTalk-DB,</text>
<text x="86.40" y="447.00" font-size="7.35" text-anchor="middle" font-weight="normal" font-style="normal" fill="#1e1e1e" stroke="#1e1e1e" stroke-width="0.12" >ConnectomeDB2020,</text>
<text x="86.40" y="455.65" font-size="7.35" text-anchor="middle" font-weight="normal" font-style="normal" fill="#1e1e1e" stroke="#1e1e1e" stroke-width="0.12" >iTALK-DB, GtoPdb, DLRP,</text>
<text x="86.40" y="464.30" font-size="7.35" text-anchor="middle" font-weight="normal" font-style="normal" fill="#1e1e1e" stroke="#1e1e1e" stroke-width="0.12" >LRBase, Zhang2019</text>
<text x="176.50" y="442.68" font-size="7.35" text-anchor="middle" font-weight="normal" font-style="normal" fill="#1e1e1e" stroke="#1e1e1e" stroke-width="0.12" >CellTalkDB, GtoPdb,</text>
<text x="176.50" y="451.32" font-size="7.35" text-anchor="middle" font-weight="normal" font-style="normal" fill="#1e1e1e" stroke="#1e1e1e" stroke-width="0.12" >CCIDB, LRBase</text>
<text x="266.60" y="447.00" font-size="7.35" text-anchor="middle" font-weight="normal" font-style="normal" fill="#1e1e1e" stroke="#1e1e1e" stroke-width="0.12" >GtoPdb, LRBase</text>
<text x="86.40" y="482.55" font-size="7.35" text-anchor="middle" font-weight="normal" font-style="normal" fill="#1e1e1e" stroke="#1e1e1e" stroke-width="0.12" >ICELLNET, Cellinker-DB,</text>
<text x="86.40" y="491.20" font-size="7.35" text-anchor="middle" font-weight="normal" font-style="normal" fill="#1e1e1e" stroke="#1e1e1e" stroke-width="0.12" >CellChatDB, LRIDB,</text>
<text x="86.40" y="499.85" font-size="7.35" text-anchor="middle" font-weight="normal" font-style="normal" fill="#1e1e1e" stroke="#1e1e1e" stroke-width="0.12" >scDiffCom-DB</text>
<text x="176.50" y="486.88" font-size="7.35" text-anchor="middle" font-weight="normal" font-style="normal" fill="#1e1e1e" stroke="#1e1e1e" stroke-width="0.12" >Cellinker-DB, CellChatDB,</text>
<text x="176.50" y="495.53" font-size="7.35" text-anchor="middle" font-weight="normal" font-style="normal" fill="#1e1e1e" stroke="#1e1e1e" stroke-width="0.12" >LRIDB, scDiffCom-DB</text>
<text x="266.60" y="491.20" font-size="7.35" text-anchor="middle" font-weight="normal" font-style="normal" fill="#1e1e1e" stroke="#1e1e1e" stroke-width="0.12" >Cellinker-DB, CellChatDB</text>
<text x="86.40" y="527.05" font-size="7.35" text-anchor="middle" font-weight="normal" font-style="normal" fill="#1e1e1e" stroke="#1e1e1e" stroke-width="0.12" >LRdb, Jinyu2020,</text>
<text x="86.40" y="535.70" font-size="7.35" text-anchor="middle" font-weight="normal" font-style="normal" fill="#1e1e1e" stroke="#1e1e1e" stroke-width="0.12" >NicheNet-DB, Qiao2014,</text>
<text x="86.40" y="544.35" font-size="7.35" text-anchor="middle" font-weight="normal" font-style="normal" fill="#1e1e1e" stroke="#1e1e1e" stroke-width="0.12" >LRT-KB, exFINDER-DB</text>
<text x="176.50" y="531.38" font-size="7.35" text-anchor="middle" font-weight="normal" font-style="normal" fill="#1e1e1e" stroke="#1e1e1e" stroke-width="0.12" >LRT-KB, exFINDER-DB,</text>
<text x="176.50" y="540.03" font-size="7.35" text-anchor="middle" font-weight="normal" font-style="normal" fill="#1e1e1e" stroke="#1e1e1e" stroke-width="0.12" >NicheNet-DB</text>
<text x="266.60" y="535.70" font-size="7.35" text-anchor="middle" font-weight="normal" font-style="normal" fill="#1e1e1e" stroke="#1e1e1e" stroke-width="0.12" >exFINDER-DB</text>
<text x="86.40" y="571.25" font-size="7.35" text-anchor="middle" font-weight="normal" font-style="normal" fill="#1e1e1e" stroke="#1e1e1e" stroke-width="0.12" >CellPhoneDB, Omnipath,</text>
<text x="86.40" y="579.90" font-size="7.35" text-anchor="middle" font-weight="normal" font-style="normal" fill="#1e1e1e" stroke="#1e1e1e" stroke-width="0.12" >CellCall-DB, stMLnet-DB,</text>
<text x="86.40" y="588.55" font-size="7.35" text-anchor="middle" font-weight="normal" font-style="normal" fill="#1e1e1e" stroke="#1e1e1e" stroke-width="0.12" >LIANA Consensus</text>
<text x="176.50" y="579.90" font-size="7.35" text-anchor="middle" font-weight="normal" font-style="normal" fill="#1e1e1e" stroke="#1e1e1e" stroke-width="0.12" >CellCall-DB, Omnipath</text>
<text x="266.60" y="579.90" font-size="7.35" text-anchor="middle" font-weight="normal" font-style="normal" fill="#1e1e1e" stroke="#1e1e1e" stroke-width="0.12" >Omnipath</text>
<text x="0" y="0" font-size="8.4" font-weight="bold" text-anchor="middle" fill="#111" transform="translate(10.2 510.5) rotate(-90)">Resource features</text>
<text x="0" y="0" font-size="7.9" font-weight="bold" text-anchor="middle" fill="#111" transform="translate(21.4 466.6) rotate(-90)">INTER only</text>
<text x="0" y="0" font-size="7.6" font-weight="bold" text-anchor="middle" fill="#111" transform="translate(21.4 555.5) rotate(-90)">INTER + INTRA</text>
<text font-size="7.2" font-style="italic" stroke="#333" stroke-width="0.15" text-anchor="middle" fill="#333" transform="translate(32.0 444.4) rotate(-90)"><tspan x="0" y="0">No</tspan><tspan x="0" y="6.3">Complex</tspan></text>
<text font-size="7.2" font-style="italic" stroke="#333" stroke-width="0.15" text-anchor="middle" fill="#333" transform="translate(32.0 488.6) rotate(-90)"><tspan x="0" y="0">With</tspan><tspan x="0" y="6.3">complex</tspan></text>
<text font-size="7.2" font-style="italic" stroke="#333" stroke-width="0.15" text-anchor="middle" fill="#333" transform="translate(32.0 533.1) rotate(-90)"><tspan x="0" y="0">No</tspan><tspan x="0" y="6.3">complex</tspan></text>
<text font-size="7.2" font-style="italic" stroke="#333" stroke-width="0.15" text-anchor="middle" fill="#333" transform="translate(32.0 577.3) rotate(-90)"><tspan x="0" y="0">With</tspan><tspan x="0" y="6.3">complex</tspan></text>
<text x="341.50" y="412.60" font-size="7.0" text-anchor="middle" font-weight="normal" font-style="normal" fill="#1a1a1a" stroke="#1a1a1a" stroke-width="0.12" >count</text>
<text x="315.60" y="420.30" font-size="7.0" text-anchor="middle" font-weight="normal" font-style="normal" fill="#4d4d4d" stroke="#4d4d4d" stroke-width="0.12" >0</text>
<line x1="315.60" y1="421.4" x2="315.60" y2="423.4" stroke="#333" stroke-width="0.6"/>
<text x="331.80" y="420.30" font-size="7.0" text-anchor="middle" font-weight="normal" font-style="normal" fill="#4d4d4d" stroke="#4d4d4d" stroke-width="0.12" >5</text>
<line x1="331.80" y1="421.4" x2="331.80" y2="423.4" stroke="#333" stroke-width="0.6"/>
<text x="348.00" y="420.30" font-size="7.0" text-anchor="middle" font-weight="normal" font-style="normal" fill="#4d4d4d" stroke="#4d4d4d" stroke-width="0.12" >10</text>
<line x1="348.00" y1="421.4" x2="348.00" y2="423.4" stroke="#333" stroke-width="0.6"/>
<text x="364.20" y="420.30" font-size="7.0" text-anchor="middle" font-weight="normal" font-style="normal" fill="#4d4d4d" stroke="#4d4d4d" stroke-width="0.12" >15</text>
<line x1="364.20" y1="421.4" x2="364.20" y2="423.4" stroke="#333" stroke-width="0.6"/>
<rect x="313.4" y="423.4" width="55.9" height="86.60000000000002" fill="#fff"/>
<line x1="315.60" y1="423.4" x2="315.60" y2="510.0" stroke="#ebebeb" stroke-width="0.5"/>
<line x1="331.80" y1="423.4" x2="331.80" y2="510.0" stroke="#ebebeb" stroke-width="0.5"/>
<line x1="348.00" y1="423.4" x2="348.00" y2="510.0" stroke="#ebebeb" stroke-width="0.5"/>
<line x1="364.20" y1="423.4" x2="364.20" y2="510.0" stroke="#ebebeb" stroke-width="0.5"/>
<line x1="323.70" y1="423.4" x2="323.70" y2="510.0" stroke="#f3f3f3" stroke-width="0.35"/>
<line x1="339.90" y1="423.4" x2="339.90" y2="510.0" stroke="#f3f3f3" stroke-width="0.35"/>
<line x1="356.10" y1="423.4" x2="356.10" y2="510.0" stroke="#f3f3f3" stroke-width="0.35"/>
<rect x="370.2" y="423.4" width="8.4" height="86.60000000000002" fill="#d6d6d6" stroke="#333" stroke-width="0.5"/>
<text x="0" y="0" font-size="6.4" text-anchor="middle" fill="#1a1a1a" transform="translate(372.2 466.7) rotate(90)">INTER only</text>
<rect x="313.4" y="513.5" width="55.9" height="85.5" fill="#fff"/>
<line x1="315.60" y1="513.5" x2="315.60" y2="599.0" stroke="#ebebeb" stroke-width="0.5"/>
<line x1="331.80" y1="513.5" x2="331.80" y2="599.0" stroke="#ebebeb" stroke-width="0.5"/>
<line x1="348.00" y1="513.5" x2="348.00" y2="599.0" stroke="#ebebeb" stroke-width="0.5"/>
<line x1="364.20" y1="513.5" x2="364.20" y2="599.0" stroke="#ebebeb" stroke-width="0.5"/>
<line x1="323.70" y1="513.5" x2="323.70" y2="599.0" stroke="#f3f3f3" stroke-width="0.35"/>
<line x1="339.90" y1="513.5" x2="339.90" y2="599.0" stroke="#f3f3f3" stroke-width="0.35"/>
<line x1="356.10" y1="513.5" x2="356.10" y2="599.0" stroke="#f3f3f3" stroke-width="0.35"/>
<rect x="370.2" y="513.5" width="8.4" height="85.5" fill="#d6d6d6" stroke="#333" stroke-width="0.5"/>
<text x="0" y="0" font-size="6.4" text-anchor="middle" fill="#1a1a1a" transform="translate(372.2 556.25) rotate(90)">INTER+INTRA</text>
<line x1="313.4" y1="446.70000000000005" x2="369.3" y2="446.70000000000005" stroke="#ebebeb" stroke-width="0.5"/>
<rect x="315.60" y="429.1" width="32.40" height="35.20" fill="#3aad78"/>
<rect x="348.00" y="429.1" width="12.96" height="35.20" fill="#f4e31f"/>
<rect x="360.96" y="429.1" width="6.48" height="35.20" fill="#2f6a96"/>
<line x1="313.4" y1="486.15" x2="369.3" y2="486.15" stroke="#ebebeb" stroke-width="0.5"/>
<rect x="315.60" y="468.2" width="16.20" height="35.90" fill="#3aad78"/>
<rect x="331.80" y="468.2" width="12.96" height="35.90" fill="#f4e31f"/>
<rect x="344.76" y="468.2" width="6.48" height="35.90" fill="#2f6a96"/>
<line x1="313.4" y1="536.6500000000001" x2="369.3" y2="536.6500000000001" stroke="#ebebeb" stroke-width="0.5"/>
<rect x="315.60" y="519.2" width="19.44" height="34.90" fill="#3aad78"/>
<rect x="335.04" y="519.2" width="9.72" height="34.90" fill="#f4e31f"/>
<rect x="344.76" y="519.2" width="3.24" height="34.90" fill="#2f6a96"/>
<line x1="313.4" y1="575.8" x2="369.3" y2="575.8" stroke="#ebebeb" stroke-width="0.5"/>
<rect x="315.60" y="558.3" width="16.20" height="35.00" fill="#3aad78"/>
<rect x="331.80" y="558.3" width="6.48" height="35.00" fill="#f4e31f"/>
<rect x="338.28" y="558.3" width="3.24" height="35.00" fill="#2f6a96"/>
<rect x="313.4" y="423.4" width="55.9" height="86.60000000000002" fill="none" stroke="#444" stroke-width="0.8"/>
<rect x="313.4" y="513.5" width="55.9" height="85.5" fill="none" stroke="#444" stroke-width="0.8"/>
<text x="336.60" y="610.80" font-size="7.7" text-anchor="start" font-weight="normal" font-style="normal" fill="#1a1a1a" stroke="#1a1a1a" stroke-width="0.12" >Species</text>
<rect x="336.1" y="615.8" width="6.8" height="6.6" fill="#3aad78"/>
<text x="344.70" y="621.80" font-size="7.7" text-anchor="start" font-weight="normal" font-style="normal" fill="#1a1a1a" stroke="#1a1a1a" stroke-width="0.12" >Human</text>
<rect x="336.1" y="625.5" width="6.8" height="6.6" fill="#f4e31f"/>
<text x="344.70" y="631.50" font-size="7.7" text-anchor="start" font-weight="normal" font-style="normal" fill="#1a1a1a" stroke="#1a1a1a" stroke-width="0.12" >Mouse</text>
<rect x="336.1" y="635.3" width="6.8" height="6.6" fill="#2f6a96"/>
<text x="344.70" y="641.30" font-size="7.7" text-anchor="start" font-weight="normal" font-style="normal" fill="#1a1a1a" stroke="#1a1a1a" stroke-width="0.12" >Other</text>
<rect x="41.6" y="600.8" width="87.9" height="7.2" fill="#d6d6d6" stroke="#333" stroke-width="0.5"/>
<text x="85.55" y="606.90" font-size="6.4" text-anchor="middle" font-weight="normal" font-style="normal" fill="#1a1a1a" stroke="#1a1a1a" stroke-width="0.12" >Human</text>
<line x1="41.6" y1="609.50" x2="129.5" y2="609.50" stroke="#ebebeb" stroke-width="0.5"/>
<line x1="41.6" y1="618.93" x2="129.5" y2="618.93" stroke="#ebebeb" stroke-width="0.5"/>
<line x1="41.6" y1="628.37" x2="129.5" y2="628.37" stroke="#ebebeb" stroke-width="0.5"/>
<line x1="41.6" y1="637.80" x2="129.5" y2="637.80" stroke="#ebebeb" stroke-width="0.5"/>
<line x1="65.25" y1="608" x2="65.25" y2="639.2" stroke="#ebebeb" stroke-width="0.5"/>
<rect x="47.4" y="609.5" width="35.70" height="18.87" fill="#6b1d8a"/>
<rect x="47.4" y="628.37" width="35.70" height="9.44" fill="#ef615c"/>
<text x="65.25" y="646.30" font-size="6.1" text-anchor="middle" font-weight="normal" font-style="normal" fill="#3a3a3a" stroke="#3a3a3a" stroke-width="0.12" >INTER only</text>
<line x1="106.1" y1="608" x2="106.1" y2="639.2" stroke="#ebebeb" stroke-width="0.5"/>
<rect x="88.1" y="609.5" width="36.00" height="11.32" fill="#6b1d8a"/>
<rect x="88.1" y="620.82" width="36.00" height="9.44" fill="#ef615c"/>
<text x="106.10" y="646.30" font-size="6.1" text-anchor="middle" font-weight="normal" font-style="normal" fill="#3a3a3a" stroke="#3a3a3a" stroke-width="0.12" >INTER+INTRA</text>
<rect x="41.6" y="608" width="87.9" height="31.2" fill="none" stroke="#444" stroke-width="0.8"/>
<rect x="132.5" y="600.8" width="88.0" height="7.2" fill="#d6d6d6" stroke="#333" stroke-width="0.5"/>
<text x="176.50" y="606.90" font-size="6.4" text-anchor="middle" font-weight="normal" font-style="normal" fill="#1a1a1a" stroke="#1a1a1a" stroke-width="0.12" >Mouse</text>
<line x1="132.5" y1="609.50" x2="220.5" y2="609.50" stroke="#ebebeb" stroke-width="0.5"/>
<line x1="132.5" y1="618.93" x2="220.5" y2="618.93" stroke="#ebebeb" stroke-width="0.5"/>
<line x1="132.5" y1="628.37" x2="220.5" y2="628.37" stroke="#ebebeb" stroke-width="0.5"/>
<line x1="132.5" y1="637.80" x2="220.5" y2="637.80" stroke="#ebebeb" stroke-width="0.5"/>
<line x1="156.5" y1="608" x2="156.5" y2="639.2" stroke="#ebebeb" stroke-width="0.5"/>
<rect x="138.5" y="609.5" width="36.00" height="7.55" fill="#6b1d8a"/>
<rect x="138.5" y="617.05" width="36.00" height="7.55" fill="#ef615c"/>
<text x="156.50" y="646.30" font-size="6.1" text-anchor="middle" font-weight="normal" font-style="normal" fill="#3a3a3a" stroke="#3a3a3a" stroke-width="0.12" >INTER only</text>
<line x1="196.75" y1="608" x2="196.75" y2="639.2" stroke="#ebebeb" stroke-width="0.5"/>
<rect x="178.5" y="609.5" width="36.50" height="5.66" fill="#6b1d8a"/>
<rect x="178.5" y="615.16" width="36.50" height="3.77" fill="#ef615c"/>
<text x="196.75" y="646.30" font-size="6.1" text-anchor="middle" font-weight="normal" font-style="normal" fill="#3a3a3a" stroke="#3a3a3a" stroke-width="0.12" >INTER+INTRA</text>
<rect x="132.5" y="608" width="88.0" height="31.2" fill="none" stroke="#444" stroke-width="0.8"/>
<rect x="223.5" y="600.8" width="88.30000000000001" height="7.2" fill="#d6d6d6" stroke="#333" stroke-width="0.5"/>
<text x="267.65" y="606.90" font-size="6.4" text-anchor="middle" font-weight="normal" font-style="normal" fill="#1a1a1a" stroke="#1a1a1a" stroke-width="0.12" >Other</text>
<line x1="223.5" y1="609.50" x2="311.8" y2="609.50" stroke="#ebebeb" stroke-width="0.5"/>
<line x1="223.5" y1="618.93" x2="311.8" y2="618.93" stroke="#ebebeb" stroke-width="0.5"/>
<line x1="223.5" y1="628.37" x2="311.8" y2="628.37" stroke="#ebebeb" stroke-width="0.5"/>
<line x1="223.5" y1="637.80" x2="311.8" y2="637.80" stroke="#ebebeb" stroke-width="0.5"/>
<line x1="247.05" y1="608" x2="247.05" y2="639.2" stroke="#ebebeb" stroke-width="0.5"/>
<rect x="228.6" y="609.5" width="36.90" height="3.77" fill="#6b1d8a"/>
<rect x="228.6" y="613.27" width="36.90" height="3.77" fill="#ef615c"/>
<text x="247.05" y="646.30" font-size="6.1" text-anchor="middle" font-weight="normal" font-style="normal" fill="#3a3a3a" stroke="#3a3a3a" stroke-width="0.12" >INTER only</text>
<line x1="287.75" y1="608" x2="287.75" y2="639.2" stroke="#ebebeb" stroke-width="0.5"/>
<rect x="269.7" y="609.5" width="36.10" height="1.89" fill="#6b1d8a"/>
<rect x="269.7" y="611.39" width="36.10" height="1.89" fill="#ef615c"/>
<text x="287.75" y="646.30" font-size="6.1" text-anchor="middle" font-weight="normal" font-style="normal" fill="#3a3a3a" stroke="#3a3a3a" stroke-width="0.12" >INTER+INTRA</text>
<rect x="223.5" y="608" width="88.30000000000001" height="31.2" fill="none" stroke="#444" stroke-width="0.8"/>
<text x="38.90" y="611.60" font-size="6.0" text-anchor="end" font-weight="normal" font-style="normal" fill="#444" stroke="#444" stroke-width="0.12" >0</text>
<line x1="39.4" y1="609.50" x2="41.6" y2="609.50" stroke="#333" stroke-width="0.6"/>
<text x="38.90" y="621.03" font-size="6.0" text-anchor="end" font-weight="normal" font-style="normal" fill="#444" stroke="#444" stroke-width="0.12" >5</text>
<line x1="39.4" y1="618.93" x2="41.6" y2="618.93" stroke="#333" stroke-width="0.6"/>
<text x="38.90" y="630.47" font-size="6.0" text-anchor="end" font-weight="normal" font-style="normal" fill="#444" stroke="#444" stroke-width="0.12" >10</text>
<line x1="39.4" y1="628.37" x2="41.6" y2="628.37" stroke="#333" stroke-width="0.6"/>
<text x="38.90" y="639.90" font-size="6.0" text-anchor="end" font-weight="normal" font-style="normal" fill="#444" stroke="#444" stroke-width="0.12" >15</text>
<line x1="39.4" y1="637.80" x2="41.6" y2="637.80" stroke="#333" stroke-width="0.6"/>
<text x="0" y="0" font-size="6.1" font-weight="bold" text-anchor="middle" fill="#222" transform="translate(29.1 623.3) rotate(-90)">count</text>
<text x="93.00" y="664.60" font-size="7.6" text-anchor="start" font-weight="normal" font-style="normal" fill="#1a1a1a" stroke="#1a1a1a" stroke-width="0.12" >Complex</text>
<rect x="131.0" y="658.0" width="6.6" height="7.4" fill="#6b1d8a"/>
<text x="139.00" y="664.60" font-size="7.6" text-anchor="start" font-weight="normal" font-style="normal" fill="#1a1a1a" stroke="#1a1a1a" stroke-width="0.12" >NO complexes</text>
<rect x="196.2" y="658.0" width="6.4" height="7.4" fill="#ef615c"/>
<text x="203.80" y="664.60" font-size="7.6" text-anchor="start" font-weight="normal" font-style="normal" fill="#1a1a1a" stroke="#1a1a1a" stroke-width="0.12" >WITH complexes</text>
<text x="406.30" y="411.30" font-size="13.8" text-anchor="start" font-weight="bold" font-style="normal" fill="#111" stroke="#111" stroke-width="0" >c</text>
<rect x="442.8" y="420.0" width="221.90000000000003" height="200.60000000000002" fill="#fff"/>
<line x1="442.80" y1="420.0" x2="442.80" y2="620.6" stroke="#e8e8e8" stroke-width="0.8"/>
<line x1="471.70" y1="420.0" x2="471.70" y2="620.6" stroke="#f2f2f2" stroke-width="0.5"/>
<line x1="500.60" y1="420.0" x2="500.60" y2="620.6" stroke="#e8e8e8" stroke-width="0.8"/>
<line x1="529.50" y1="420.0" x2="529.50" y2="620.6" stroke="#f2f2f2" stroke-width="0.5"/>
<line x1="558.40" y1="420.0" x2="558.40" y2="620.6" stroke="#e8e8e8" stroke-width="0.8"/>
<line x1="587.30" y1="420.0" x2="587.30" y2="620.6" stroke="#f2f2f2" stroke-width="0.5"/>
<line x1="616.20" y1="420.0" x2="616.20" y2="620.6" stroke="#e8e8e8" stroke-width="0.8"/>
<line x1="645.10" y1="420.0" x2="645.10" y2="620.6" stroke="#f2f2f2" stroke-width="0.5"/>
<line x1="442.8" y1="448.4" x2="664.7" y2="448.4" stroke="#e8e8e8" stroke-width="0.8"/>
<line x1="442.8" y1="496.4" x2="664.7" y2="496.4" stroke="#e8e8e8" stroke-width="0.8"/>
<line x1="442.8" y1="544.4" x2="664.7" y2="544.4" stroke="#e8e8e8" stroke-width="0.8"/>
<line x1="442.8" y1="592.4" x2="664.7" y2="592.4" stroke="#e8e8e8" stroke-width="0.8"/>
<rect x="442.8" y="427.20" width="144.50" height="21.2" fill="#f4e31f" stroke="#1f1f1f" stroke-width="0.8"/>
<text x="445.90" y="436.20" font-size="8.7" text-anchor="start" font-weight="normal" font-style="normal" fill="#141414" stroke="#141414" stroke-width="0.12" >Omnipath, CellCall−DB, LRBase,</text>
<text x="445.90" y="445.70" font-size="8.7" text-anchor="start" font-weight="normal" font-style="normal" fill="#141414" stroke="#141414" stroke-width="0.12" >NicheNet−DB, exFINDER−DB</text>
<text x="589.70" y="440.90" font-size="8.7" text-anchor="start" font-weight="normal" font-style="normal" fill="#262626" stroke="#262626" stroke-width="0.12" >5</text>
<rect x="442.8" y="448.40" width="202.30" height="21.2" fill="#3aad78" stroke="#1f1f1f" stroke-width="0.8"/>
<text x="445.90" y="457.40" font-size="8.7" text-anchor="start" font-weight="normal" font-style="normal" fill="#141414" stroke="#141414" stroke-width="0.12" >Omnipath, CellCall−DB, LIANA Consensus,</text>
<text x="445.90" y="466.90" font-size="8.7" text-anchor="start" font-weight="normal" font-style="normal" fill="#141414" stroke="#141414" stroke-width="0.12" >LRBase, NicheNet−DB, LRIDB, exFINDER−DB</text>
<text x="647.50" y="462.10" font-size="8.7" text-anchor="start" font-weight="normal" font-style="normal" fill="#262626" stroke="#262626" stroke-width="0.12" >7</text>
<rect x="442.8" y="475.20" width="115.60" height="21.2" fill="#f4e31f" stroke="#1f1f1f" stroke-width="0.8"/>
<text x="445.90" y="484.20" font-size="8.7" text-anchor="start" font-weight="normal" font-style="normal" fill="#141414" stroke="#141414" stroke-width="0.12" >Cellinker−DB, CellChatDB,</text>
<text x="445.90" y="493.70" font-size="8.7" text-anchor="start" font-weight="normal" font-style="normal" fill="#141414" stroke="#141414" stroke-width="0.12" >LRIDB, scDiffCom−DB</text>
<text x="560.80" y="488.90" font-size="8.7" text-anchor="start" font-weight="normal" font-style="normal" fill="#262626" stroke="#262626" stroke-width="0.12" >4</text>
<rect x="442.8" y="496.40" width="202.30" height="21.2" fill="#3aad78" stroke="#1f1f1f" stroke-width="0.8"/>
<text x="445.90" y="505.40" font-size="8.7" text-anchor="start" font-weight="normal" font-style="normal" fill="#141414" stroke="#141414" stroke-width="0.12" >CellTalkDB, Cellinker−DB, CellChatDB, LRdb,</text>
<text x="445.90" y="514.90" font-size="8.7" text-anchor="start" font-weight="normal" font-style="normal" fill="#141414" stroke="#141414" stroke-width="0.12" >scDiffCom−DB, stMLnet−DB, LRT−KB</text>
<text x="647.50" y="510.10" font-size="8.7" text-anchor="start" font-weight="normal" font-style="normal" fill="#262626" stroke="#262626" stroke-width="0.12" >7</text>
<rect x="442.8" y="523.20" width="57.80" height="21.2" fill="#f4e31f" stroke="#1f1f1f" stroke-width="0.8"/>
<text x="445.90" y="532.20" font-size="8.7" text-anchor="start" font-weight="normal" font-style="normal" fill="#141414" stroke="#141414" stroke-width="0.12" >CellTalkDB,</text>
<text x="445.90" y="541.70" font-size="8.7" text-anchor="start" font-weight="normal" font-style="normal" fill="#141414" stroke="#141414" stroke-width="0.12" >LRT−KB</text>
<text x="503.00" y="536.90" font-size="8.7" text-anchor="start" font-weight="normal" font-style="normal" fill="#262626" stroke="#262626" stroke-width="0.12" >2</text>
<rect x="442.8" y="544.40" width="173.40" height="21.2" fill="#3aad78" stroke="#1f1f1f" stroke-width="0.8"/>
<text x="445.90" y="553.40" font-size="8.7" text-anchor="start" font-weight="normal" font-style="normal" fill="#141414" stroke="#141414" stroke-width="0.12" >CellPhoneDB, Ramilowski 2015, iTALK−DB,</text>
<text x="445.90" y="562.90" font-size="8.7" text-anchor="start" font-weight="normal" font-style="normal" fill="#141414" stroke="#141414" stroke-width="0.12" >ConnectomeDB 2020, GtoPdb, Jinyu 2020</text>
<text x="618.60" y="558.10" font-size="8.7" text-anchor="start" font-weight="normal" font-style="normal" fill="#262626" stroke="#262626" stroke-width="0.12" >6</text>
<rect x="442.8" y="571.20" width="57.80" height="21.2" fill="#f4e31f" stroke="#1f1f1f" stroke-width="0.8"/>
<text x="445.90" y="580.20" font-size="8.7" text-anchor="start" font-weight="normal" font-style="normal" fill="#141414" stroke="#141414" stroke-width="0.12" >GtoPdb,</text>
<text x="445.90" y="589.70" font-size="8.7" text-anchor="start" font-weight="normal" font-style="normal" fill="#141414" stroke="#141414" stroke-width="0.12" >CCIDB</text>
<text x="503.00" y="584.90" font-size="8.7" text-anchor="start" font-weight="normal" font-style="normal" fill="#262626" stroke="#262626" stroke-width="0.12" >2</text>
<rect x="442.8" y="592.40" width="173.40" height="21.2" fill="#3aad78" stroke="#1f1f1f" stroke-width="0.8"/>
<text x="445.90" y="601.40" font-size="8.7" text-anchor="start" font-weight="normal" font-style="normal" fill="#141414" stroke="#141414" stroke-width="0.12" >ICELLNET, Zhang 2019, Qiao 2014, DLRP,</text>
<text x="445.90" y="610.90" font-size="8.7" text-anchor="start" font-weight="normal" font-style="normal" fill="#141414" stroke="#141414" stroke-width="0.12" >CCIDB, CytoTalk−DB</text>
<text x="618.60" y="606.10" font-size="8.7" text-anchor="start" font-weight="normal" font-style="normal" fill="#262626" stroke="#262626" stroke-width="0.12" >6</text>
<rect x="442.8" y="420.0" width="221.90000000000003" height="200.60000000000002" fill="none" stroke="#333" stroke-width="0.9"/>
<text x="439.40" y="451.50" font-size="8.9" text-anchor="end" font-weight="normal" font-style="normal" fill="#4d4d4d" stroke="#4d4d4d" stroke-width="0.12" >&gt; 5k</text>
<line x1="440.0" y1="448.4" x2="442.8" y2="448.4" stroke="#333" stroke-width="0.7"/>
<text x="439.40" y="499.50" font-size="8.9" text-anchor="end" font-weight="normal" font-style="normal" fill="#4d4d4d" stroke="#4d4d4d" stroke-width="0.12" >3k−5k</text>
<line x1="440.0" y1="496.4" x2="442.8" y2="496.4" stroke="#333" stroke-width="0.7"/>
<text x="439.40" y="547.50" font-size="8.9" text-anchor="end" font-weight="normal" font-style="normal" fill="#4d4d4d" stroke="#4d4d4d" stroke-width="0.12" >2k−3k</text>
<line x1="440.0" y1="544.4" x2="442.8" y2="544.4" stroke="#333" stroke-width="0.7"/>
<text x="439.40" y="595.50" font-size="8.9" text-anchor="end" font-weight="normal" font-style="normal" fill="#4d4d4d" stroke="#4d4d4d" stroke-width="0.12" >&lt; 2k</text>
<line x1="440.0" y1="592.4" x2="442.8" y2="592.4" stroke="#333" stroke-width="0.7"/>
<line x1="442.80" y1="620.6" x2="442.80" y2="623.2" stroke="#333" stroke-width="0.7"/>
<text x="442.80" y="631.40" font-size="8.7" text-anchor="middle" font-weight="normal" font-style="normal" fill="#4d4d4d" stroke="#4d4d4d" stroke-width="0.12" >0</text>
<line x1="500.60" y1="620.6" x2="500.60" y2="623.2" stroke="#333" stroke-width="0.7"/>
<text x="500.60" y="631.40" font-size="8.7" text-anchor="middle" font-weight="normal" font-style="normal" fill="#4d4d4d" stroke="#4d4d4d" stroke-width="0.12" >2</text>
<line x1="558.40" y1="620.6" x2="558.40" y2="623.2" stroke="#333" stroke-width="0.7"/>
<text x="558.40" y="631.40" font-size="8.7" text-anchor="middle" font-weight="normal" font-style="normal" fill="#4d4d4d" stroke="#4d4d4d" stroke-width="0.12" >4</text>
<line x1="616.20" y1="620.6" x2="616.20" y2="623.2" stroke="#333" stroke-width="0.7"/>
<text x="616.20" y="631.40" font-size="8.7" text-anchor="middle" font-weight="normal" font-style="normal" fill="#4d4d4d" stroke="#4d4d4d" stroke-width="0.12" >6</text>
<text x="558.10" y="642.40" font-size="9.5" text-anchor="middle" font-weight="bold" font-style="normal" fill="#111" stroke="#111" stroke-width="0" >Number of DBs</text>
<text x="0" y="0" font-size="9.6" font-weight="bold" text-anchor="middle" fill="#111" transform="translate(412.2 515.7) rotate(-90)">LR interaction range</text>
<text x="495.00" y="663.60" font-size="8.6" text-anchor="start" font-weight="normal" font-style="normal" fill="#1a1a1a" stroke="#1a1a1a" stroke-width="0.12" >Species</text>
<rect x="533.5" y="655.5" width="9.0" height="9.1" fill="#3aad78" stroke="#1f1f1f" stroke-width="0.7"/>
<text x="544.00" y="663.60" font-size="8.6" text-anchor="start" font-weight="normal" font-style="normal" fill="#1a1a1a" stroke="#1a1a1a" stroke-width="0.12" >Human</text>
<rect x="578.6" y="655.5" width="8.7" height="9.1" fill="#f4e31f" stroke="#1f1f1f" stroke-width="0.7"/>
<text x="589.00" y="663.60" font-size="8.6" text-anchor="start" font-weight="normal" font-style="normal" fill="#1a1a1a" stroke="#1a1a1a" stroke-width="0.12" >Mouse</text>
</svg>
</body></html>
